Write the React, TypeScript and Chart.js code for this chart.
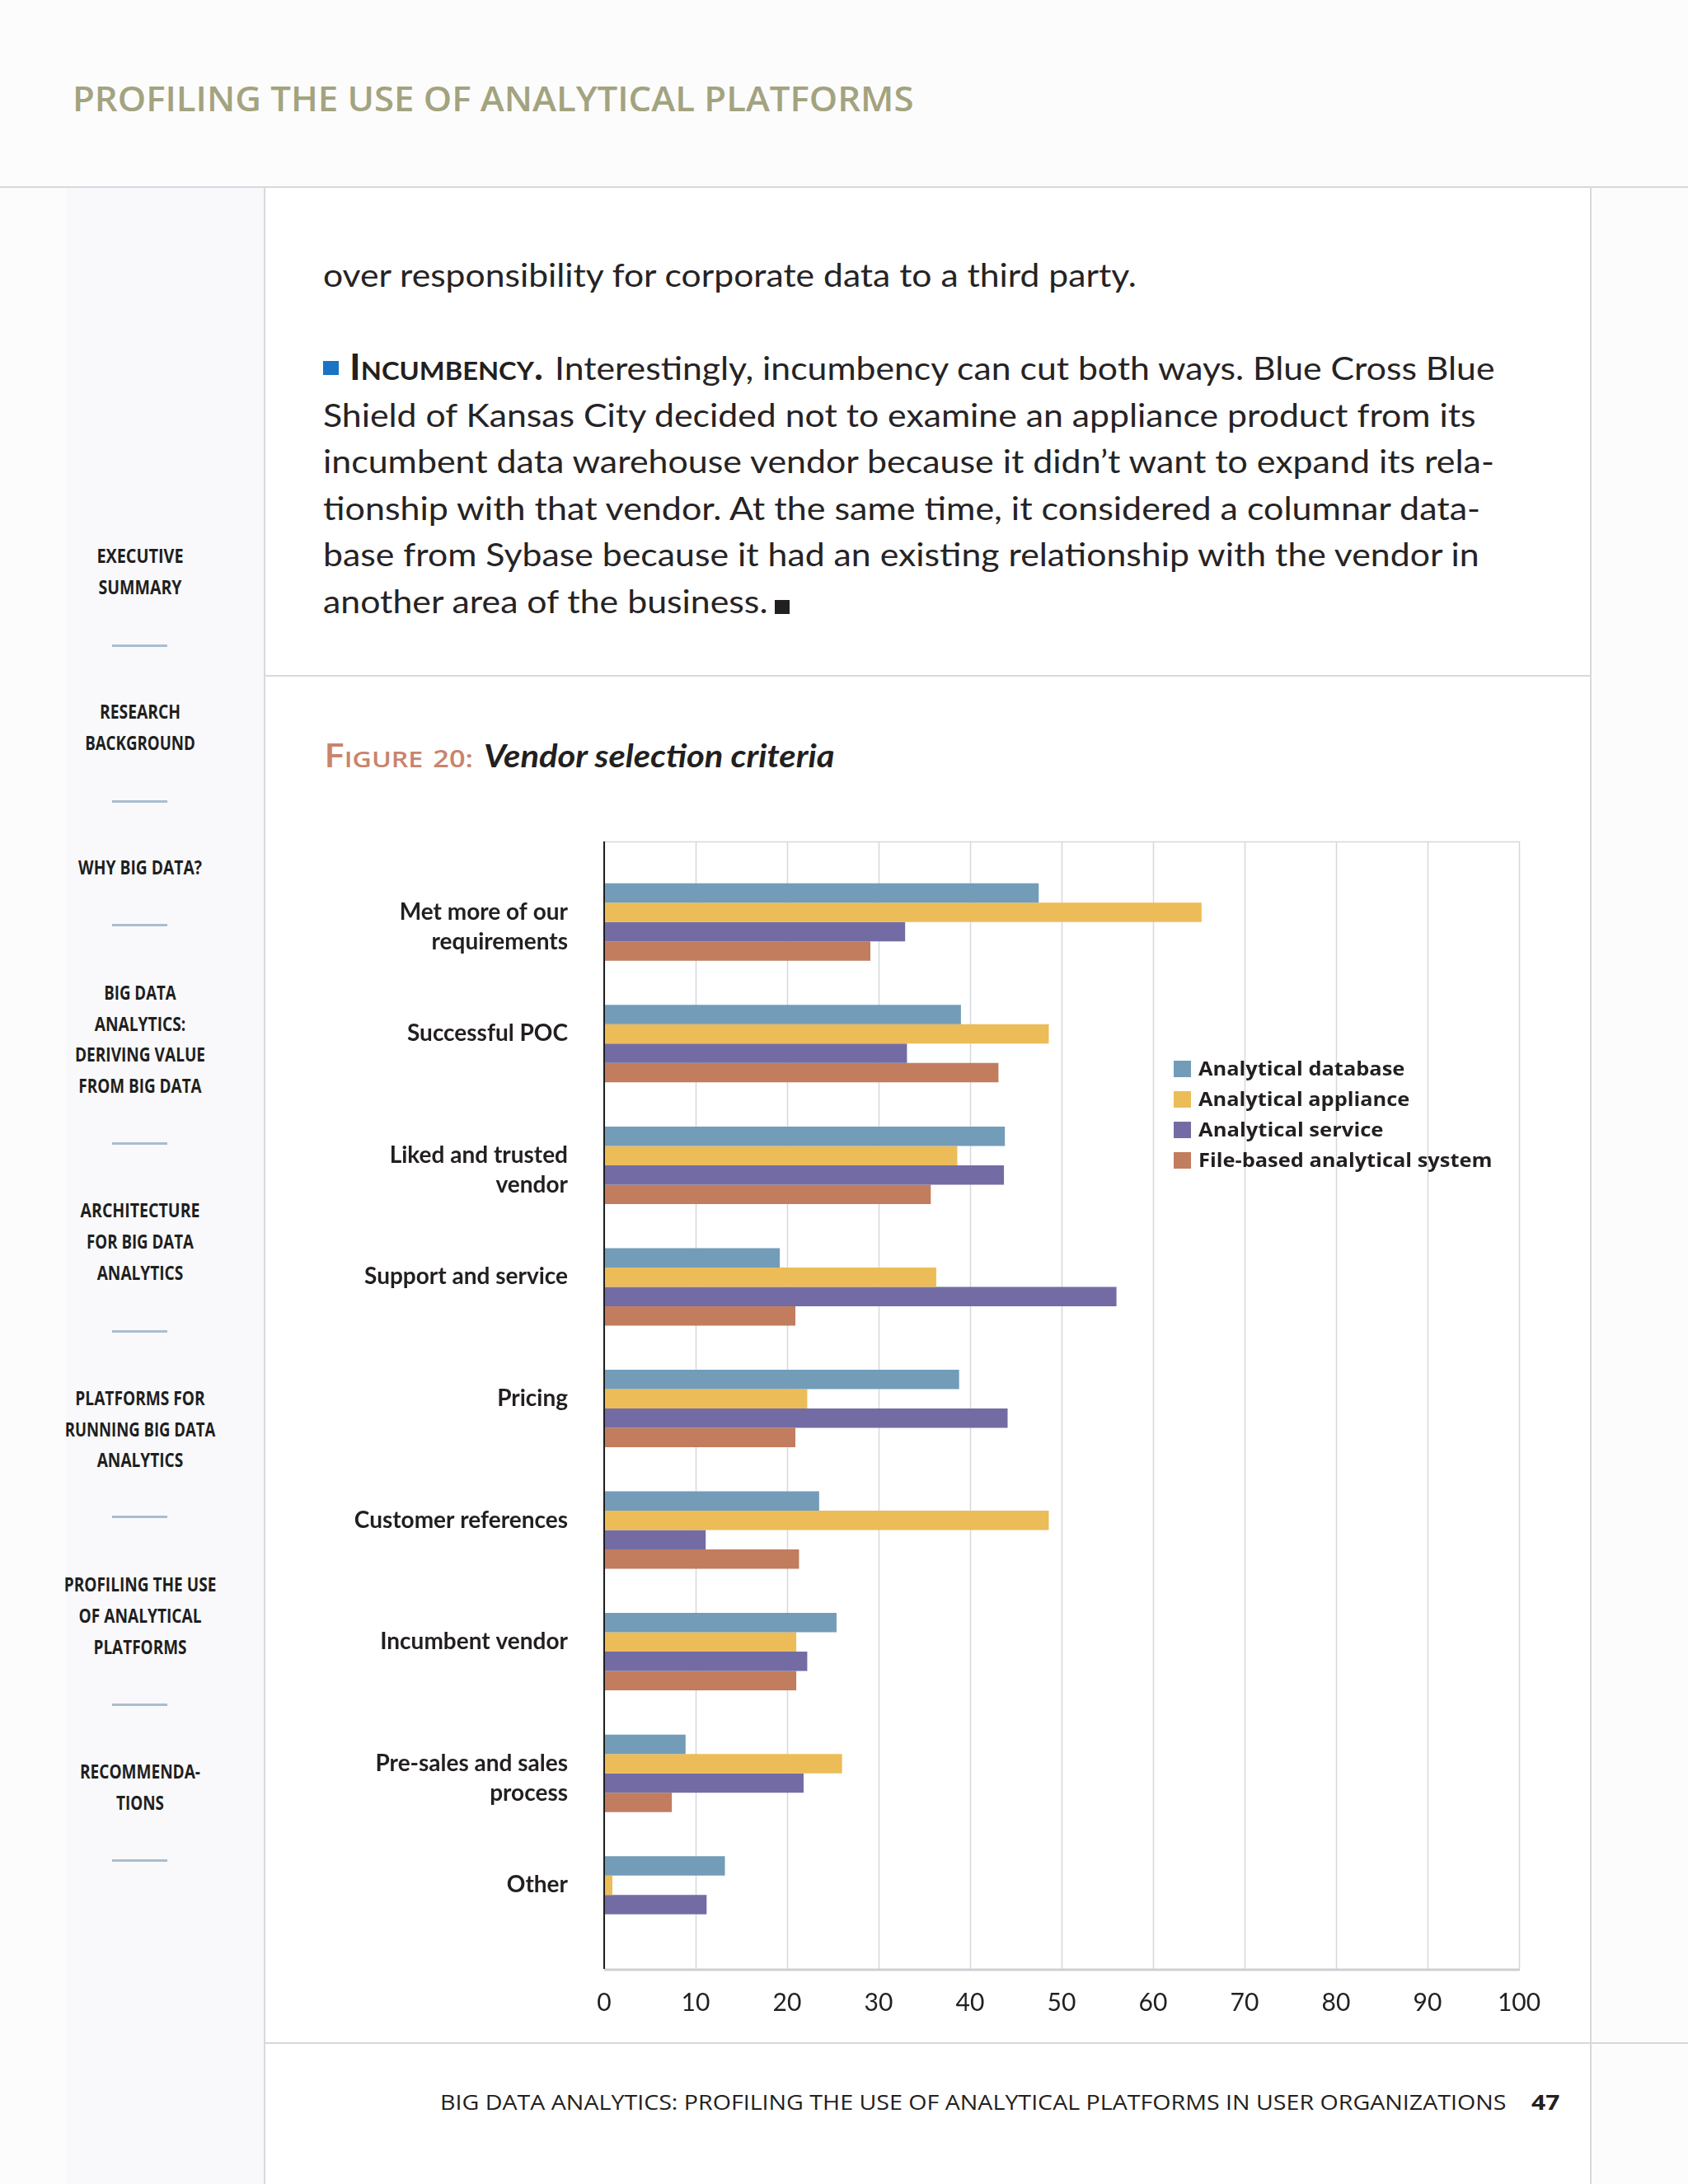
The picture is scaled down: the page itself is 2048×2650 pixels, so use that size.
import React, { useEffect, useLayoutEffect, useRef } from 'react';
import { Chart, registerables } from 'chart.js';

Chart.register(...registerables);

// ---------- chart data ----------
const categories: string[][] = [
  ['Met more of our', 'requirements'],
  ['Successful POC', ''],
  ['Liked and trusted', 'vendor'],
  ['Support and service', ''],
  ['Pricing', ''],
  ['Customer references', ''],
  ['Incumbent vendor', ''],
  ['Pre-sales and sales', 'process'],
  ['Other', ''],
];
const seriesNames = ['Analytical database', 'Analytical appliance', 'Analytical service', 'File-based analytical system'];
const seriesColors = ['#739cb9', '#ecbc58', '#736ca4', '#c17d5e'];
const analyticalDatabase = [47.5, 39.0, 43.8, 19.2, 38.8, 23.5, 25.4, 8.9, 13.2];
const analyticalAppliance = [65.3, 48.6, 38.6, 36.3, 22.2, 48.6, 21.0, 26.0, 0.9];
const analyticalService = [32.9, 33.1, 43.7, 56.0, 44.1, 11.1, 22.2, 21.8, 11.2];
const fileBasedSystem = [29.1, 43.1, 35.7, 20.9, 20.9, 21.3, 21.0, 7.4, 0];
const seriesValues = [analyticalDatabase, analyticalAppliance, analyticalService, fileBasedSystem];
const xTicks = [0, 10, 20, 30, 40, 50, 60, 70, 80, 90, 100];

// ---------- text helper ----------
const METRICS: Record<string, [number, number]> = {
  Lato: [0.987, 0.213],
  'Open Sans': [1.069, 0.293],
};

type TxtProps = {
  x: number;
  base: number;
  w?: number;
  align?: 'left' | 'center' | 'right';
  font?: string;
  size: number;
  weight?: number;
  color?: string;
  italic?: boolean;
  ls?: number;
  smallCaps?: boolean;
  children: React.ReactNode;
};

function Txt({ x, base, w, align = 'left', font = 'Lato', size, weight = 400, color = '#262324', italic, ls = 0, smallCaps, children }: TxtProps) {
  const ref = useRef<HTMLDivElement>(null);
  const [A, D] = METRICS[font];
  useLayoutEffect(() => {
    const el = ref.current;
    if (!el) return;
    const apply = () => {
      const nat = el.offsetWidth;
      const s = w && nat ? w / nat : 1;
      const tx = align === 'center' ? 'translateX(-50%) ' : align === 'right' ? 'translateX(-100%) ' : '';
      el.style.transformOrigin = align === 'center' ? '50% 0' : align === 'right' ? '100% 0' : '0 0';
      el.style.transform = `${tx}scaleX(${s})`;
    };
    apply();
    if ((document as any).fonts) (document as any).fonts.ready.then(apply);
  }, [w, align]);
  return (
    <div
      ref={ref}
      style={{
        position: 'absolute',
        left: x,
        top: base - A * size,
        fontFamily: `"${font}"`,
        fontSize: size,
        fontWeight: weight,
        fontStyle: italic ? 'italic' : 'normal',
        fontVariant: smallCaps ? 'small-caps' : 'normal',
        lineHeight: `${(A + D) * size}px`,
        whiteSpace: 'nowrap',
        letterSpacing: ls,
        color,
      }}
    >
      {children}
    </div>
  );
}

// ---------- chart ----------
function VendorChart() {
  const ref = useRef<HTMLCanvasElement>(null);
  useEffect(() => {
    if (!ref.current) return;
    const frame = {
      id: 'frame',
      beforeDatasetsDraw(chart: any) {
        const { ctx, chartArea, scales } = chart;
        const xs = scales.x;
        const top = chartArea.top - 24;
        const bottom = chartArea.bottom + 17;
        ctx.save();
        ctx.strokeStyle = '#d6d8de';
        ctx.lineWidth = 1.5;
        for (const v of xTicks) {
          const px = Math.round(xs.getPixelForValue(v)) + 0.5;
          ctx.beginPath();
          ctx.moveTo(px, top);
          ctx.lineTo(px, bottom);
          ctx.stroke();
        }
        ctx.beginPath();
        ctx.moveTo(xs.getPixelForValue(xTicks[0]), top + 0.5);
        ctx.lineTo(xs.getPixelForValue(xTicks[xTicks.length - 1]), top + 0.5);
        ctx.stroke();
        ctx.restore();
      },
      afterDatasetsDraw(chart: any) {
        const { ctx, chartArea, scales } = chart;
        const xs = scales.x;
        const top = chartArea.top - 24;
        const bottom = chartArea.bottom + 17;
        ctx.save();
        ctx.strokeStyle = '#cfd0d4';
        ctx.lineWidth = 3;
        ctx.beginPath();
        ctx.moveTo(xs.getPixelForValue(xTicks[0]), bottom);
        ctx.lineTo(xs.getPixelForValue(xTicks[xTicks.length - 1]) + 1, bottom);
        ctx.stroke();
        ctx.strokeStyle = '#1e1e1e';
        ctx.lineWidth = 2;
        const lx = xs.getPixelForValue(0);
        ctx.beginPath();
        ctx.moveTo(lx, top);
        ctx.lineTo(lx, bottom - 1);
        ctx.stroke();
        ctx.restore();
      },
    };
    const chart = new Chart(ref.current, {
      type: 'bar',
      data: {
        labels: categories,
        datasets: seriesNames.map((name, i) => ({
          label: name,
          data: seriesValues[i],
          backgroundColor: seriesColors[i],
          borderWidth: 0,
          categoryPercentage: 0.637,
          barPercentage: 1,
        })),
      },
      options: {
        indexAxis: 'y',
        animation: false,
        responsive: false,
        maintainAspectRatio: false,
        devicePixelRatio: 1,
        layout: { padding: { top: 55, right: 57, bottom: 0, left: 0 } },
        plugins: { legend: { display: false }, tooltip: { enabled: false } },
        scales: {
          x: {
            type: 'linear',
            min: 0,
            max: 100,
            afterBuildTicks: (s: any) => {
              s.ticks = xTicks.map((v) => ({ value: v }));
            },
            ticks: {
              font: { family: 'Lato', size: 30, weight: 400, lineHeight: 3.8 },
              color: '#231f20',
              padding: 0,
              maxRotation: 0,
              autoSkip: false,
            },
            grid: { display: false, drawTicks: false },
            border: { display: false },
            afterFit: (s: any) => {
              s.height = 107;
            },
          },
          y: {
            type: 'category',
            offset: true,
            ticks: {
              font: { family: 'Lato', size: 28, weight: 700, lineHeight: 1.286 },
              color: '#231f20',
              padding: 0,
              labelOffset: 6,
              autoSkip: false,
            },
            grid: { display: false, drawTicks: true, tickLength: 44 },
            border: { display: false },
            afterFit: (s: any) => {
              s.width = 403;
            },
          },
        },
      } as any,
      plugins: [frame],
    });
    return () => chart.destroy();
  }, []);
  return (
    <canvas
      ref={ref}
      width={1570}
      height={1490}
      style={{ position: 'absolute', left: 330, top: 990, width: 1570, height: 1490 }}
    />
  );
}

// ---------- page pieces ----------
const sidebar: { lines: [string, number][]; base: number }[] = [
  { lines: [['EXECUTIVE', 105], ['SUMMARY', 101]], base: 684 },
  { lines: [['RESEARCH', 98], ['BACKGROUND', 134]], base: 872.5 },
  { lines: [['WHY BIG DATA?', 150]], base: 1062 },
  { lines: [['BIG DATA', 87], ['ANALYTICS:', 110], ['DERIVING VALUE', 158], ['FROM BIG DATA', 149]], base: 1213.5 },
  { lines: [['ARCHITECTURE', 145], ['FOR BIG DATA', 130], ['ANALYTICS', 105]], base: 1478 },
  { lines: [['PLATFORMS FOR', 157], ['RUNNING BIG DATA', 183], ['ANALYTICS', 105]], base: 1705.5 },
  { lines: [['PROFILING THE USE', 185], ['OF ANALYTICAL', 149], ['PLATFORMS', 113]], base: 1932 },
  { lines: [['RECOMMENDA-', 146], ['TIONS', 58]], base: 2159 },
];
const dividers = [783, 972, 1122.5, 1387.5, 1615, 1840.5, 2068.5, 2257];

const bodyLines: [string, number, number, number][] = [
  ['over responsibility for corporate data to a third party.', 392, 348, 987],
  ['Interestingly, incumbency can cut both ways. Blue Cross Blue', 673, 461.7, 1140],
  ['Shield of Kansas City decided not to examine an appliance product from its', 392, 518, 1399],
  ['incumbent data warehouse vendor because it didn\u2019t want to expand its rela-', 392, 574.5, 1421],
  ['tionship with that vendor. At the same time, it considered a columnar data-', 392, 631, 1404],
  ['base from Sybase because it had an existing relationship with the vendor in', 392, 687.5, 1403],
  ['another area of the business.', 392, 744, 539],
];

const legendWidths = [250, 256, 224, 357];

function Line({ x, y, w, h, c = '#d8d8dd' }: { x: number; y: number; w: number; h: number; c?: string }) {
  return <div style={{ position: 'absolute', left: x, top: y, width: w, height: h, background: c }} />;
}

export default function App() {
  useEffect(() => {
    document.body.style.margin = '0';
  }, []);
  return (
    <div style={{ position: 'absolute', left: 0, top: 0, width: 2048, height: 2650, overflow: 'hidden', background: '#fcfcfd' }}>
      {/* panels */}
      <div style={{ position: 'absolute', left: 80, top: 228, width: 241, height: 2422, background: '#f9f9fb' }} />
      <div style={{ position: 'absolute', left: 322, top: 228, width: 1608, height: 2422, background: '#ffffff' }} />
      {/* rules */}
      <Line x={0} y={226} w={2048} h={2} />
      <Line x={320} y={227} w={2} h={2423} />
      <Line x={1929} y={227} w={2} h={2423} />
      <Line x={321} y={819} w={1609} h={2} />
      <Line x={321} y={2478} w={1727} h={2} />

      {/* header */}
      <Txt x={88} base={135} w={1020} font="Open Sans" size={42} weight={600} color="#a3a37f">
        PROFILING THE USE OF ANALYTICAL PLATFORMS
      </Txt>

      {/* sidebar */}
      {sidebar.map((g, gi) =>
        g.lines.map(([t, w], li) => (
          <Txt key={`${gi}-${li}`} x={169.5} base={g.base + li * 37.7} w={w} align="center" font="Open Sans" size={24} weight={700} color="#1f1f1f">
            {t}
          </Txt>
        ))
      )}
      {dividers.map((y, i) => (
        <Line key={i} x={136} y={y - 1.5} w={67} h={3} c="#a9bdd0" />
      ))}

      {/* body text */}
      {bodyLines.map(([t, x, b, w], i) => (
        <Txt key={i} x={x} base={b} w={w} font="Lato" size={39} weight={400} color="#262324">
          {t}
        </Txt>
      ))}
      <div style={{ position: 'absolute', left: 392, top: 438, width: 19, height: 17, background: '#1b73c3' }} />
      <Txt x={424} base={461.7} w={235} font="Lato" size={44} weight={700} smallCaps color="#231f20">
        Incumbency.
      </Txt>
      <div style={{ position: 'absolute', left: 940, top: 728, width: 18, height: 17, background: '#231f20' }} />

      {/* figure title */}
      <Txt x={393} base={931} w={181} font="Open Sans" size={39} weight={600} smallCaps color="#c9846d">
        Figure <span style={{ fontSize: '0.74em' }}>20:</span>
      </Txt>
      <Txt x={587} base={931} w={425} font="Lato" size={39} weight={700} italic color="#231f20">
        Vendor selection criteria
      </Txt>

      {/* chart */}
      <VendorChart />

      {/* legend */}
      {seriesNames.map((n, i) => (
        <React.Fragment key={n}>
          <div style={{ position: 'absolute', left: 1424, top: 1305.6 + i * 37 - 19, width: 21, height: 20, background: seriesColors[i] }} />
          <Txt x={1454} base={1305.6 + i * 37} w={legendWidths[i]} font="Open Sans" size={24} weight={700} color="#231f20">
            {n}
          </Txt>
        </React.Fragment>
      ))}

      {/* footer */}
      <Txt x={534} base={2561} w={1294} font="Open Sans" size={25.6} weight={400} color="#231f20">
        BIG DATA ANALYTICS: PROFILING THE USE OF ANALYTICAL PLATFORMS IN USER ORGANIZATIONS
      </Txt>
      <Txt x={1858} base={2561} w={34} font="Open Sans" size={25.6} weight={700} color="#231f20">
        47
      </Txt>
    </div>
  );
}
